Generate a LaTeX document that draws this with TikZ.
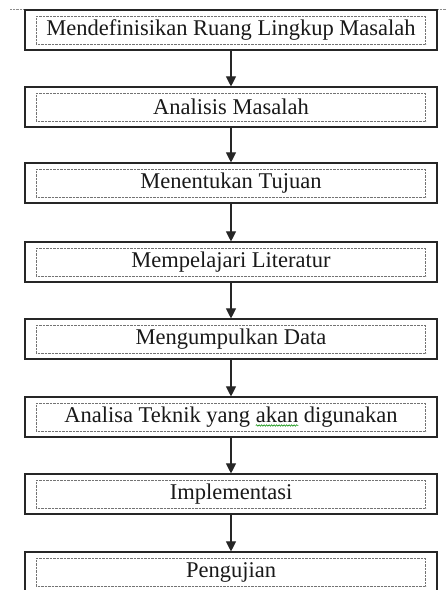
\documentclass[tikz,border=0pt]{standalone}
\usepackage{fontspec}
\setmainfont{Liberation Serif}
\usetikzlibrary{arrows.meta,decorations.pathmorphing}
\newlength\fullw
\newlength\prew
\newlength\akw
\begin{document}
{\fontsize{22.5}{26}\selectfont
\global\setbox1=\hbox{Analisa Teknik yang akan digunakan}\global\fullw=\wd1
\global\setbox1=\hbox{Analisa Teknik yang }\global\prew=\wd1
\global\setbox1=\hbox{akan}\global\akw=\wd1}%
\begin{tikzpicture}[x=1pt,y=1pt,
  stepbox/.style={draw=black!85,line width=1.1pt,minimum width=412pt,minimum height=40pt,inner sep=0pt,
    font=\fontsize{22.5}{26}\selectfont,text=black!90},
  flow/.style={draw=black!85,line width=1.1pt,-{Triangle[width=10pt,length=10pt]}},
  innerbox/.style={draw=black!55,dash pattern=on 0.6pt off 0.8pt,line width=0.6pt},
  topline/.style={draw=black!45,dash pattern=on 0.6pt off 0.8pt,line width=0.7pt},
  spell/.style={draw=green!55!black,line width=0.5pt,decorate,decoration={snake,amplitude=0.8pt,segment length=2.5pt}}]
\useasboundingbox (0,0) rectangle (447,590);
\fill[white] (0,0) rectangle (447,590);
\coordinate (tl1) at (10,581);
\coordinate (tl2) at (447,581);
\draw[topline] (tl1) -- (tl2);
\node[stepbox] (n1) at (231,560) {Mendefinisikan Ruang Lingkup Masalah};
\node[stepbox] (n2) at (231,483) {Analisis Masalah};
\node[stepbox] (n3) at (231,407) {Menentukan Tujuan};
\node[stepbox] (n4) at (231,328) {Mempelajari Literatur};
\node[stepbox] (n5) at (231,251) {Mengumpulkan Data};
\node[stepbox] (n6) at (231,173) {Analisa Teknik yang akan digunakan};
\node[stepbox] (n7) at (231,96) {Implementasi};
\node[stepbox] (n8) at (231,18) {Pengujian};
\foreach \n in {n1,n2,n3,n4,n5,n6,n7,n8}{
  \draw[innerbox] ([shift={(12pt,-7pt)}]\n.north west) rectangle ([shift={(-12pt,6pt)}]\n.south east);
}
\draw[flow] (n1.south) -- (n2.north);
\draw[flow] (n2.south) -- (n3.north);
\draw[flow] (n3.south) -- (n4.north);
\draw[flow] (n4.south) -- (n5.north);
\draw[flow] (n5.south) -- (n6.north);
\draw[flow] (n6.south) -- (n7.north);
\draw[flow] (n7.south) -- (n8.north);
\coordinate (w1) at ([xshift=-0.5\fullw+\prew,yshift=-8.5pt]n6.center);
\coordinate (w2) at ([xshift=-0.5\fullw+\prew+\akw,yshift=-8.5pt]n6.center);
\draw[spell] (w1) -- (w2);
\end{tikzpicture}
\end{document}
